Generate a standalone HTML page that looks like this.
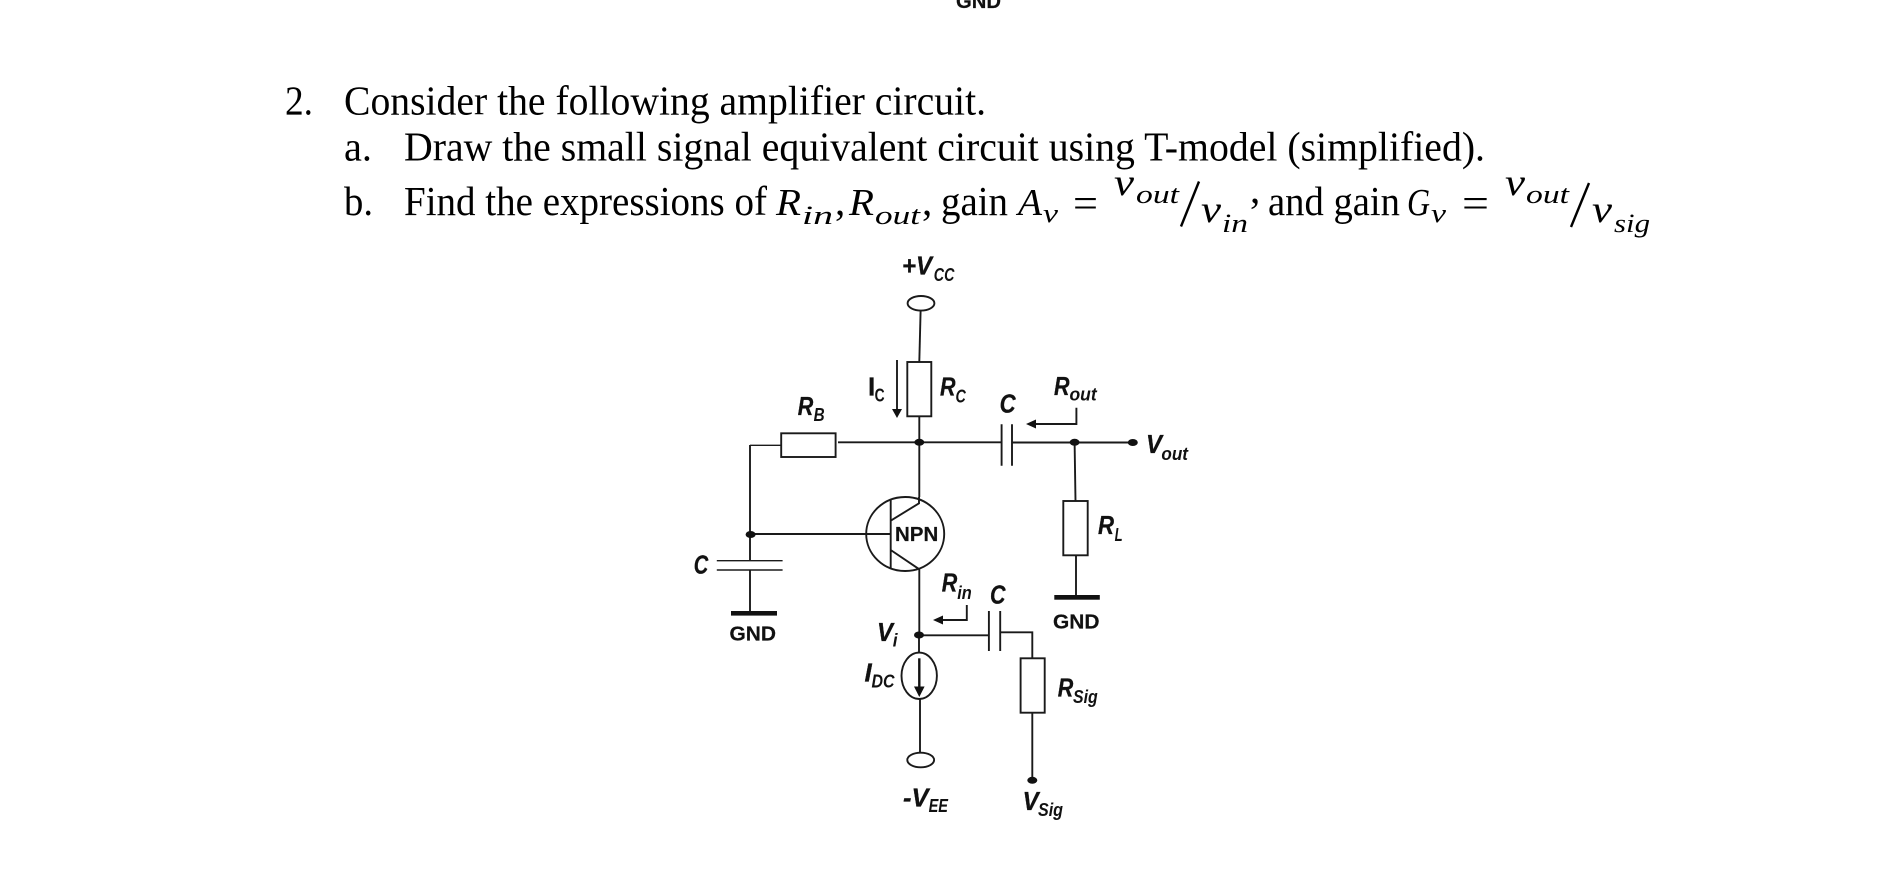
<!DOCTYPE html>
<html><head><meta charset="utf-8"><style>
html,body{margin:0;padding:0;background:#fff;width:1878px;height:869px;overflow:hidden}
svg{display:block}
.t{font-family:"Liberation Serif",serif;font-size:41px;fill:#000}
.m{font-family:"Liberation Serif",serif;font-style:italic;font-size:38px;fill:#000}
.s{font-family:"Liberation Serif",serif;font-style:italic;font-size:26px;fill:#000}
.l{font-family:"Liberation Sans",sans-serif;font-weight:bold;font-style:italic;font-size:26px;fill:#111;stroke:#111;stroke-width:.3}
.u{font-family:"Liberation Sans",sans-serif;font-weight:bold;font-style:italic;font-size:18px;fill:#111}
.g{font-family:"Liberation Sans",sans-serif;font-weight:bold;font-size:20px;fill:#111;stroke:#111;stroke-width:.2}
.w{stroke:#1a1a1a;stroke-width:1.9;fill:none}
.n{stroke:#1a1a1a;stroke-width:1.4;fill:none}
.f{fill:#111;stroke:none}
</style></head><body>
<svg width="1878" height="869" viewBox="0 0 1878 869" xmlns="http://www.w3.org/2000/svg">
<rect width="1878" height="869" fill="#fff"/>
<text class="g" x="956" y="8" textLength="45" lengthAdjust="spacingAndGlyphs">GND</text>

<text class="t" x="285" y="114.5" textLength="28" lengthAdjust="spacingAndGlyphs">2.</text>
<text class="t" x="344" y="114.5" textLength="642" lengthAdjust="spacingAndGlyphs">Consider the following amplifier circuit.</text>
<text class="t" x="344" y="160.5" textLength="28" lengthAdjust="spacingAndGlyphs">a.</text>
<text class="t" x="404" y="160.5" textLength="1081" lengthAdjust="spacingAndGlyphs">Draw the small signal equivalent circuit using T-model (simplified).</text>
<text class="t" x="344" y="215" textLength="29" lengthAdjust="spacingAndGlyphs">b.</text>
<text class="t" x="404" y="215" textLength="363" lengthAdjust="spacingAndGlyphs">Find the expressions of</text>
<text class="m" x="776" y="215" textLength="25" lengthAdjust="spacingAndGlyphs">R</text>
<text class="s" x="802" y="224" textLength="31" lengthAdjust="spacingAndGlyphs">in</text>
<text class="t" x="835" y="215">,</text>
<text class="m" x="849" y="215" textLength="25" lengthAdjust="spacingAndGlyphs">R</text>
<text class="s" x="875" y="224" textLength="45" lengthAdjust="spacingAndGlyphs">out</text>
<text class="t" x="922" y="215">,</text>
<text class="t" x="941" y="215" textLength="67" lengthAdjust="spacingAndGlyphs">gain</text>
<text class="m" x="1018" y="215" textLength="24" lengthAdjust="spacingAndGlyphs">A</text>
<text class="s" x="1043" y="222" textLength="15" lengthAdjust="spacingAndGlyphs">v</text>
<text class="t" x="1073" y="217" textLength="25" lengthAdjust="spacingAndGlyphs">=</text>
<text class="m" x="1114" y="195" textLength="20" lengthAdjust="spacingAndGlyphs">v</text>
<text class="s" x="1136" y="203" textLength="43" lengthAdjust="spacingAndGlyphs">out</text>
<path d="M1199 181.5L1181 226.5" stroke="#000" stroke-width="2.4" fill="none"/>
<text class="m" x="1201" y="222" textLength="20" lengthAdjust="spacingAndGlyphs">v</text>
<text class="s" x="1222" y="232" textLength="26" lengthAdjust="spacingAndGlyphs">in</text>
<text class="t" x="1250" y="203">,</text>
<text class="t" x="1268" y="215" textLength="132" lengthAdjust="spacingAndGlyphs">and gain</text>
<text class="m" x="1407" y="215" textLength="23" lengthAdjust="spacingAndGlyphs">G</text>
<text class="s" x="1431" y="222" textLength="15" lengthAdjust="spacingAndGlyphs">v</text>
<text class="t" x="1462" y="217" textLength="27" lengthAdjust="spacingAndGlyphs">=</text>
<text class="m" x="1505" y="195" textLength="20" lengthAdjust="spacingAndGlyphs">v</text>
<text class="s" x="1526" y="203" textLength="43" lengthAdjust="spacingAndGlyphs">out</text>
<path d="M1589 183L1571 227" stroke="#000" stroke-width="2.4" fill="none"/>
<text class="m" x="1592" y="222" textLength="20" lengthAdjust="spacingAndGlyphs">v</text>
<text class="s" x="1614" y="232" textLength="36" lengthAdjust="spacingAndGlyphs">sig</text>

<!-- wires -->
<ellipse class="w" cx="921" cy="303.3" rx="13.4" ry="7.3"/>
<path class="w" d="M920.6 311L919.3 362"/>
<rect class="w" x="907.3" y="362" width="24" height="54.3"/>
<path class="w" d="M919.3 416.3V497"/>
<path class="w" d="M838 442.3H1001.6"/>
<rect class="w" x="781.2" y="433.3" width="54.4" height="23.7"/>
<path class="n" d="M781 445.3H750"/>
<path class="w" d="M750 445V560.7"/>
<path class="n" d="M716.8 560.7H782.6M716.8 570H782.6"/>
<path class="w" d="M750 570V612"/>
<rect class="f" x="731" y="611" width="46" height="4.6"/>
<path class="w" d="M1001.6 424.3V465.7M1012 424.3V465.7"/>
<path class="w" d="M1012 442.5H1132"/>
<path class="w" d="M1074.6 442.5L1075.5 501"/>
<rect class="w" x="1063.3" y="501" width="24.4" height="54.3"/>
<path class="w" d="M1076 555.3V596"/>
<rect class="f" x="1054.3" y="595" width="45.5" height="4.7"/>
<!-- transistor -->
<ellipse class="w" cx="905.2" cy="534" rx="39" ry="37"/>
<path class="w" d="M750.6 534H890.7M890.7 499V568.3M890.7 520.7L919 503.3V497M890.7 550L919.3 569.3V635"/>
<!-- emitter -->
<path class="w" d="M919 635V652.7"/>
<path class="w" d="M919 635.3H988.5"/>
<path class="w" d="M988.9 611V651M1000.2 611V651"/>
<path class="w" d="M1000.2 632.3H1032.3V658.3"/>
<rect class="w" x="1020.6" y="658.3" width="24.1" height="54.4"/>
<path class="w" d="M1032.3 712.7V780"/>
<ellipse class="w" cx="919.2" cy="675.8" rx="17.7" ry="23.2"/>
<path d="M919.3 658.3V688" stroke="#111" stroke-width="2.4" fill="none"/>
<path class="f" d="M914 686.5H924.6L919.3 697Z"/>
<path class="w" d="M920 699V752.7"/>
<ellipse class="w" cx="920.7" cy="760" rx="13.4" ry="7.3"/>
<!-- nodes -->
<ellipse class="f" cx="919.3" cy="442.3" rx="5" ry="3.5"/>
<ellipse class="f" cx="1074.6" cy="442.3" rx="5" ry="3.5"/>
<ellipse class="f" cx="1132.8" cy="442.5" rx="5" ry="3.5"/>
<ellipse class="f" cx="750.6" cy="534.5" rx="5" ry="3.5"/>
<ellipse class="f" cx="919" cy="635" rx="5" ry="3.5"/>
<ellipse class="f" cx="1032.3" cy="780.3" rx="5" ry="3.5"/>
<!-- arrows -->
<path class="w" d="M897 360V410"/>
<path class="f" d="M892 409H902L897 418Z"/>
<path class="w" d="M1076.4 407.7V424H1034"/>
<path class="f" d="M1026 424L1036 419.5V428.5Z"/>
<path class="w" d="M966.8 605V620H941"/>
<path class="f" d="M933 620L943 615.5V624.5Z"/>

<!-- labels -->
<text class="l" x="902" y="274.5" textLength="30" lengthAdjust="spacingAndGlyphs">+V</text><text class="u" x="933.8" y="281" textLength="20.6" lengthAdjust="spacingAndGlyphs">CC</text>
<text class="l" style="font-style:normal" x="868" y="395.7">I</text><text class="u" style="font-style:normal" x="874.6" y="401.7" textLength="10" lengthAdjust="spacingAndGlyphs">C</text>
<text class="l" x="940" y="395.7" textLength="15.5" lengthAdjust="spacingAndGlyphs">R</text><text class="u" x="955.5" y="402.7" textLength="10.3" lengthAdjust="spacingAndGlyphs">C</text>
<text class="l" x="797.8" y="415" textLength="15.5" lengthAdjust="spacingAndGlyphs">R</text><text class="u" x="813.6" y="421" textLength="11" lengthAdjust="spacingAndGlyphs">B</text>
<text class="l" x="999.6" y="412.3" textLength="16" lengthAdjust="spacingAndGlyphs">C</text>
<text class="l" x="1054" y="395" textLength="15.5" lengthAdjust="spacingAndGlyphs">R</text><text class="u" x="1069.5" y="400.7" textLength="27.2" lengthAdjust="spacingAndGlyphs">out</text>
<text class="l" x="1146" y="453" textLength="16" lengthAdjust="spacingAndGlyphs">V</text><text class="u" x="1161.4" y="460" textLength="26.6" lengthAdjust="spacingAndGlyphs">out</text>
<text class="l" x="1098" y="534" textLength="16" lengthAdjust="spacingAndGlyphs">R</text><text class="u" x="1114.6" y="541" textLength="8" lengthAdjust="spacingAndGlyphs">L</text>
<text class="l" x="693.8" y="573.3" textLength="14.5" lengthAdjust="spacingAndGlyphs">C</text>
<text class="l" x="941.7" y="591.7" textLength="15.5" lengthAdjust="spacingAndGlyphs">R</text><text class="u" x="957.2" y="599" textLength="14.5" lengthAdjust="spacingAndGlyphs">in</text>
<text class="l" x="990" y="603.3" textLength="15.5" lengthAdjust="spacingAndGlyphs">C</text>
<text class="l" x="877" y="641" textLength="16" lengthAdjust="spacingAndGlyphs">V</text><text class="u" x="892.8" y="646.7" textLength="4.8" lengthAdjust="spacingAndGlyphs">i</text>
<text class="l" x="864.5" y="681.7">I</text><text class="u" x="871.5" y="687.7" textLength="23" lengthAdjust="spacingAndGlyphs">DC</text>
<text class="l" x="1057.8" y="696.7" textLength="15.5" lengthAdjust="spacingAndGlyphs">R</text><text class="u" x="1073" y="703" textLength="24.7" lengthAdjust="spacingAndGlyphs">Sig</text>
<text class="l" x="903" y="806.7" textLength="25.5" lengthAdjust="spacingAndGlyphs">-V</text><text class="u" x="928.6" y="812" textLength="19.4" lengthAdjust="spacingAndGlyphs">EE</text>
<text class="l" x="1022.6" y="810" textLength="16" lengthAdjust="spacingAndGlyphs">V</text><text class="u" x="1038" y="816" textLength="25" lengthAdjust="spacingAndGlyphs">Sig</text>
<text class="g" x="895" y="541" textLength="43.3" lengthAdjust="spacingAndGlyphs">NPN</text>
<text class="g" x="729.5" y="640.7" textLength="46.5" lengthAdjust="spacingAndGlyphs">GND</text>
<text class="g" x="1053" y="628.7" textLength="46.5" lengthAdjust="spacingAndGlyphs">GND</text>
</svg>
</body></html>
